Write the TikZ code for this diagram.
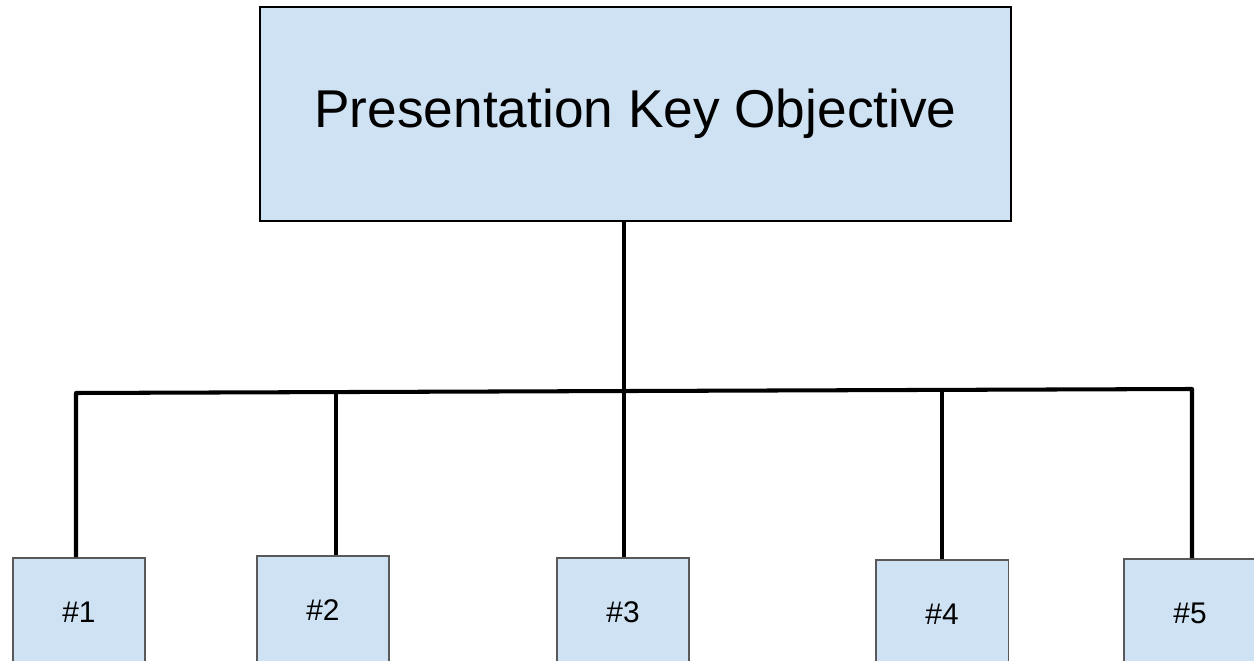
\documentclass[tikz,border=0pt]{standalone}
\usepackage{fontspec}
\setmainfont{Liberation Sans}
\definecolor{boxblue}{HTML}{CFE2F3}
\definecolor{edgegray}{HTML}{595959}

\begin{document}
\begin{tikzpicture}
        [x=0.02cm,y=-0.02cm,every node/.style={fill=boxblue,inner sep=0pt}]
        \useasboundingbox (0,0) rectangle (1254,661);
        \clip (0,0) rectangle (1254,661);
        \tikzset{TopStyle/.style =   {draw=black,
                                  line width     = 1.1pt,
                                  minimum width  = 15.02cm,
                                  minimum height = 4.28cm,
                                  font           = \fontsize{30.3}{36}\selectfont},
                 PointStyle/.style = {draw=edgegray,
                                  line width     = 0.85pt,
                                  minimum width  = 2.65cm,
                                  minimum height = 2.17cm,
                                  font           = \fontsize{17}{20}\selectfont},
                 WireStyle/.style  = {line width=2.3pt, line join=round, black}}
        \node[TopStyle] (Objective) at (635.5,114) {Presentation Key Objective};
        \node[PointStyle] (One) at (79,612)  {\#1};
        \node[PointStyle] (Two) at (323,610)  {\#2};
        \node[PointStyle] (Three) at (623,612)  {\#3};
        \node[PointStyle] (Four) at (942,614) {\#4};
        \node[PointStyle] (Five) at (1190,613)  {\#5};
        \coordinate (J1) at (76,393);
        \coordinate (J2) at (336,392);
        \coordinate (J3) at (624,391);
        \coordinate (J4) at (942,390);
        \coordinate (J5) at (1192,389);
        \draw[WireStyle] (Objective.south -| J3) -- (J3);
        \draw[WireStyle] (One.north -| J1) -- (J1) -- (J5) -- (Five.north -| J5);
        \foreach \to/\at in {Two/J2,Three/J3,Four/J4}
            \draw[WireStyle] (\at) -- (\to.north -| \at);
    \end{tikzpicture}
\end{document}
